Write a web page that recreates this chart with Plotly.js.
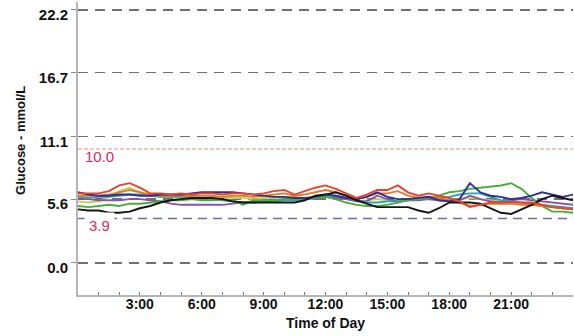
<!DOCTYPE html>
<html>
<head>
<meta charset="utf-8">
<script src="https://cdn.plot.ly/plotly-3.0.1.min.js"></script>
<style>html,body{margin:0;padding:0;background:#fff;}#chart{width:574px;height:336px;}</style>
</head>
<body>
<div id="chart"></div>
<script>
// Time of day in hours (half-hour steps)
const hours = [0,0.5,1,1.5,2,2.5,3,3.5,4,4.5,5,5.5,6,6.5,7,7.5,8,8.5,9,9.5,10,10.5,11,11.5,12,12.5,13,13.5,14,14.5,15,15.5,16,16.5,17,17.5,18,18.5,19,19.5,20,20.5,21,21.5,22,22.5,23,23.5,24];

// Glucose profiles (mmol/L), one per day
const dayRed    = [6.1,6.1,6.1,6.3,6.8,7.0,6.6,6.1,6.1,6.0,6.1,6.0,6.1,6.1,6.0,6.1,6.1,6.0,6.1,6.3,6.4,6.0,6.3,6.6,6.8,6.5,6.1,5.7,6.0,6.4,6.4,6.8,6.2,5.9,6.1,5.9,5.7,5.4,4.9,5.1,5.3,5.3,5.35,5.3,5.3,5.1,4.9,4.8,4.7];
const dayNavy   = [6.2,6.0,5.9,5.9,6.0,6.0,5.9,5.9,6.0,6.0,6.0,6.1,6.2,6.2,6.2,6.2,6.1,6.0,5.9,5.8,5.8,5.7,5.7,5.8,6.0,5.9,5.7,5.6,5.8,6.2,5.8,5.6,5.6,5.7,5.8,5.5,5.4,5.6,7.0,6.2,5.9,5.8,5.6,5.7,5.9,6.2,6.0,5.8,6.0];
const dayGreen  = [5.0,4.9,5.0,5.1,5.0,5.2,5.2,5.3,5.4,5.5,5.5,5.6,5.5,5.5,5.6,5.5,5.1,5.5,5.5,5.5,5.6,5.6,5.7,5.7,5.8,5.6,5.3,5.1,5.0,5.0,5.1,5.3,5.5,5.6,5.7,5.9,6.2,6.3,6.5,6.6,6.7,6.8,7.0,6.5,5.7,5.0,4.5,4.5,4.4];
const dayBlack  = [4.7,4.6,4.6,4.4,4.4,4.5,4.8,5.0,5.3,5.5,5.6,5.7,5.7,5.7,5.6,5.4,5.3,5.3,5.35,5.3,5.3,5.3,5.5,5.9,6.0,6.2,5.9,5.5,5.2,4.9,4.9,4.9,4.9,4.6,4.4,4.8,5.3,5.3,5.3,5.2,4.8,4.4,4.3,4.7,5.1,5.6,5.9,5.7,5.5];
const dayTeal   = [5.8,5.7,5.8,5.8,5.9,6.0,6.0,5.9,5.8,5.8,5.8,5.8,5.7,5.6,5.5,5.4,5.3,5.3,5.4,5.4,5.5,5.5,5.6,5.7,5.8,5.9,5.7,5.5,5.3,5.3,5.4,5.4,5.5,5.6,5.7,5.7,5.8,6.0,6.1,6.1,5.8,5.5,5.4,5.3,5.2,5.1,5.0,4.9,4.8];
const dayPurple = [5.6,5.6,5.5,5.5,5.5,5.6,5.6,5.5,5.4,5.2,5.1,5.1,5.1,5.1,5.1,5.2,5.3,5.4,5.5,5.5,5.6,5.6,5.7,5.6,5.8,5.7,5.6,5.4,5.4,5.9,5.6,5.4,5.5,5.5,5.6,5.5,5.4,5.5,5.9,5.6,5.4,5.3,5.5,5.6,5.5,5.4,5.3,5.2,5.1];
const dayLime   = [5.4,5.3,5.4,5.8,6.3,6.6,6.2,5.9,5.8,5.8,5.7,5.7,5.7,5.8,5.8,5.7,5.7,5.6,5.7,5.7,5.8,5.8,5.7,5.8,5.9,5.8,5.6,5.4,5.5,5.6,5.5,5.4,5.5,5.6,5.6,5.5,5.5,5.6,5.7,5.6,5.5,5.4,5.3,5.2,5.1,5.0,4.9,4.8,4.8];
const dayOrange = [5.9,5.9,5.9,6.0,6.2,6.4,6.2,6.0,5.9,5.9,5.9,5.9,5.9,5.9,5.8,5.9,5.9,5.8,5.9,6.0,6.1,5.9,6.0,6.2,6.4,6.2,5.9,5.6,5.8,6.1,6.1,6.3,5.9,5.7,5.8,5.7,5.5,5.3,5.0,5.1,5.2,5.2,5.2,5.1,5.1,5.0,4.9,4.8,4.7];

// Axis ticks and reference lines
const yTicks = [0.0, 5.6, 11.1, 16.7, 22.2];
const yTickText = ['0.0','5.6','11.1','16.7','22.2'];
const xTicks = [0,1,2,3,4,5,6,7,8,9,10,11,12,13,14,15,16,17,18,19,20,21,22,23,24];
const xTickText = ['','','','3:00','','','6:00','','','9:00','','','12:00','','','15:00','','','18:00','','','21:00','','',''];
const xTitle = 'Time of Day';
const yTitle = 'Glucose - mmol/L';
const targetHigh = 10.0;
const targetLow = 3.9;

const series = [
  {y: dayLime,   color: '#c4d448'},
  {y: dayPurple, color: '#8c4fb0'},
  {y: dayTeal,   color: '#2aa3b3'},
  {y: dayGreen,  color: '#4bab3c'},
  {y: dayOrange, color: '#e27a2e'},
  {y: dayNavy,   color: '#2c3192'},
  {y: dayBlack,  color: '#151515'},
  {y: dayRed,    color: '#e8412c'}
];

const traces = series.map(s => ({
  x: hours, y: s.y, type: 'scatter', mode: 'lines',
  line: {color: s.color, width: 1.9, shape: 'linear'},
  hoverinfo: 'skip', showlegend: false
}));

const fam = '"Liberation Sans", Arial, sans-serif';
const boldFont = (size) => ({family: fam, size: size, weight: 'bold', color: '#111'});

const layout = {
  width: 574, height: 336,
  margin: {l: 78, r: 1, t: 2, b: 41},
  paper_bgcolor: '#fff', plot_bgcolor: '#fff',
  showlegend: false,
  xaxis: {
    range: [0, 24],
    tickvals: xTicks, ticktext: xTickText,
    ticks: 'inside', ticklen: 3, tickcolor: '#777', tickwidth: 1,
    showgrid: false, zeroline: false,
    showline: true, linecolor: '#b5b5b5', linewidth: 2,
    ticklabelstandoff: -5,
    tickfont: boldFont(14)
  },
  yaxis: {
    range: [-2.81, 22.89],
    tickvals: yTicks, ticktext: yTickText,
    ticks: 'outside', ticklen: 5, tickcolor: '#888',
    showgrid: true, gridcolor: '#707070', gridwidth: 1.3, griddash: '10px,7px',
    zeroline: false,
    showline: true, linecolor: '#b5b5b5', linewidth: 2,
    ticklabelshift: 5, ticklabeloverflow: 'allow',
    tickfont: boldFont(15)
  },
  shapes: [
    {type: 'line', xref: 'paper', x0: 0, x1: 1, yref: 'y', y0: targetHigh, y1: targetHigh,
     line: {color: '#f7b59b', width: 1.5, dash: '4px,2px'}, layer: 'below'},
    {type: 'line', xref: 'paper', x0: 0, x1: 1, yref: 'y', y0: targetLow, y1: targetLow,
     line: {color: '#6a6ea6', width: 1.5, dash: '9px,6px'}, layer: 'below'}
  ],
  annotations: [
    {x: 0.5, y: -0.094, xref: 'paper', yref: 'paper', text: xTitle, showarrow: false,
     xanchor: 'center', yanchor: 'middle', font: boldFont(14)},
    {x: -0.115, y: 0.526, xref: 'paper', yref: 'paper', text: yTitle, showarrow: false, textangle: -90,
     xanchor: 'center', yanchor: 'middle', font: boldFont(13)},
    {x: 0.25, y: targetHigh - 0.7, xref: 'x', yref: 'y', text: targetHigh.toFixed(1), showarrow: false,
     xanchor: 'left', yanchor: 'middle', font: {family: fam, size: 15, color: '#dc2860'}},
    {x: 0.3, y: targetLow - 0.6, xref: 'x', yref: 'y', text: targetLow.toFixed(1), showarrow: false,
     xanchor: 'left', yanchor: 'middle', bgcolor: '#fff', borderpad: 4,
     font: {family: fam, size: 15, color: '#dc2860'}}
  ]
};

Plotly.newPlot('chart', traces, layout, {staticPlot: true, displayModeBar: false});
</script>
</body>
</html>
